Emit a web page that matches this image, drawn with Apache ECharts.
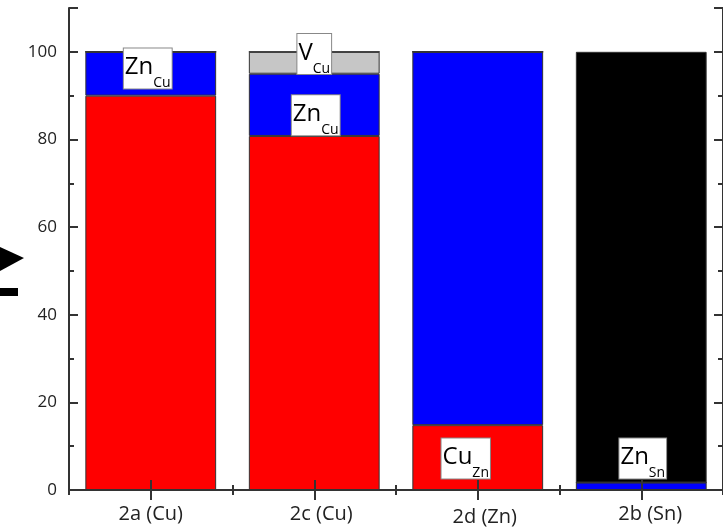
<!DOCTYPE html>
<html>
<head>
<meta charset="utf-8">
<script src="https://cdn.jsdelivr.net/npm/echarts@6/dist/echarts.min.js"></script>
<style>
html,body{margin:0;padding:0;background:#fff;}
#c{width:723px;height:527px;}
</style>
</head>
<body>
<div id="c"></div>
<script>
// ---- data ----
var categories = ['2a (Cu)', '2c (Cu)', '2d (Zn)', '2b (Sn)'];
var redValues = [90, 80.8, 14.8, 0];
var blueValues = [10, 14.2, 85.2, 1.7];
var grayValues = [0, 5, 0, 0];
var blackValues = [0, 0, 0, 98.3];
var yTickLabels = [0, 20, 40, 60, 80, 100];
var annMain = ['Zn', 'V', 'Zn', 'Cu', 'Zn'];
var annSub = ['Cu', 'Cu', 'Cu', 'Zn', 'Sn'];
var annCat = [0, 1, 1, 2, 3];
var annY = [96.2, 99.5, 85.5, 7.2, 7.2];

// ---- styling ----
var FONT = 'Open Sans';
var annOffsetX = [-3, 0, 1.5, -12, 1.5];
var xLabelPad = [[0,0,0,0],[0,0,0,14],[3,0,0,14],[0,0,0,18]];
var AX = '#333';

var chart = echarts.init(document.getElementById('c'), null, {renderer: 'canvas'});

function catAxis(pos, major, labels) {
  return {
    type: 'category', position: pos, data: categories, z: 10,
    boundaryGap: true,
    axisLine: {show: major, lineStyle: {color: AX, width: 2}},
    axisTick: {show: true, inside: true, alignWithLabel: major, length: major ? 10 : 5, lineStyle: {color: AX, width: 2}},
    axisLabel: labels ? {
      show: true, margin: 14, fontFamily: FONT, fontSize: 20, color: '#222',
      formatter: function (v, i) { return '{c' + i + '|' + v + '}'; },
      rich: {
        c0: {fontFamily: FONT, fontSize: 20, color: '#222', padding: xLabelPad[0]},
        c1: {fontFamily: FONT, fontSize: 20, color: '#222', padding: xLabelPad[1]},
        c2: {fontFamily: FONT, fontSize: 20, color: '#222', padding: xLabelPad[2]},
        c3: {fontFamily: FONT, fontSize: 20, color: '#222', padding: xLabelPad[3]}
      }
    } : {show: false},
    splitLine: {show: false}
  };
}
function valAxis(pos, major, labels) {
  return {
    type: 'value', position: pos, min: 0, max: 110, interval: major ? 20 : 10, z: 10,
    axisLine: {show: major, lineStyle: {color: AX, width: 2}},
    axisTick: {show: true, inside: true, length: major ? 9 : 5, lineStyle: {color: AX, width: 2}},
    axisLabel: labels ? {
      show: true, margin: 12, fontFamily: FONT, fontSize: 17, color: '#222',
      formatter: function (v) { return yTickLabels.indexOf(v) >= 0 ? String(v) : ''; }
    } : {show: false},
    splitLine: {show: false}
  };
}

var annData = annCat.map(function (c, i) {
  return {
    value: [c, annY[i]],
    label: {
      offset: [annOffsetX[i], 0],
      formatter: '{m|' + annMain[i] + '}{s|' + annSub[i] + '}'
    }
  };
});

var barStyle = function (color) {
  return {color: color, borderColor: '#333', borderWidth: 1};
};

chart.setOption({
  animation: false,
  backgroundColor: '#fff',
  grid: {left: 69, right: -2, top: 8, bottom: 37, containLabel: false},
  xAxis: [catAxis('bottom', true, true), catAxis('bottom', false, false), catAxis('top', true, false), catAxis('top', false, false)],
  yAxis: [valAxis('left', true, true), valAxis('left', false, false), valAxis('right', true, false), valAxis('right', false, false)],
  graphic: [
    {type: 'polygon', shape: {points: [[0, 247], [24, 258], [0, 271]]}, style: {fill: '#000'}},
    {type: 'rect', shape: {x: 0, y: 288, width: 18, height: 8}, style: {fill: '#000'}}
  ],
  series: [
    {name: 'red', type: 'bar', stack: 's', barWidth: '80%', data: redValues, itemStyle: barStyle('#ff0000')},
    {name: 'blue', type: 'bar', stack: 's', data: blueValues, itemStyle: barStyle('#0000ff')},
    {name: 'gray', type: 'bar', stack: 's', data: grayValues, itemStyle: barStyle('#c6c6c6')},
    {name: 'black', type: 'bar', stack: 's', data: blackValues, itemStyle: barStyle('#000000')},
    {
      name: 'ann', type: 'scatter', symbolSize: 0, z: 20, data: annData,
      itemStyle: {opacity: 1},
      label: {
        show: true, position: 'inside', opacity: 1,
        backgroundColor: '#ffffff', borderColor: '#888', borderWidth: 1,
        padding: [7, 1, 8, 1],
        rich: {
          m: {fontFamily: FONT, fontSize: 24, lineHeight: 25, color: '#000', verticalAlign: 'top'},
          s: {fontFamily: FONT, fontSize: 14, lineHeight: 14, color: '#000', verticalAlign: 'top', padding: [21, 0, 0, 0]}
        }
      }
    }
  ]
});
</script>
</body>
</html>
